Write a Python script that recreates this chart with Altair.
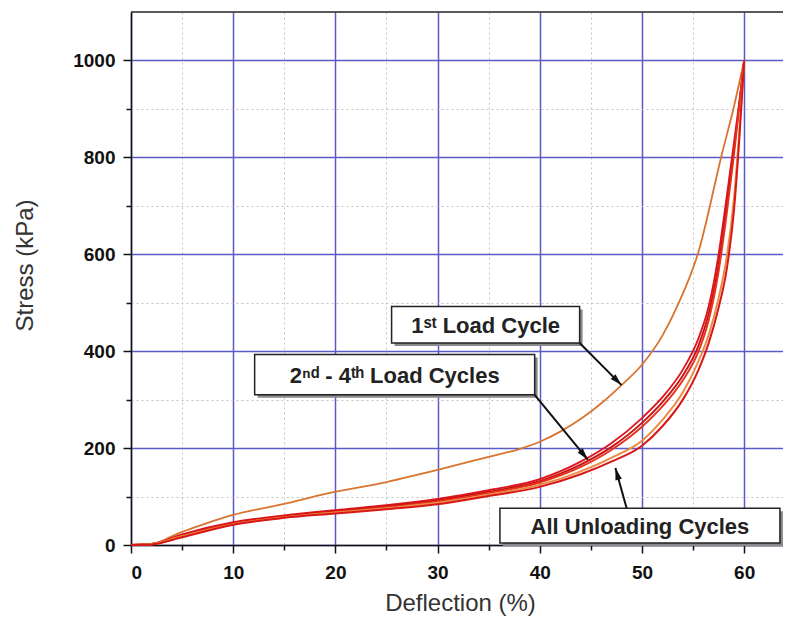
import math
import altair as alt
import pandas as pd

# ---------------- data ----------------
# 1st load cycle
load1_x = [0, 2, 3, 4, 5, 7, 10, 15, 18.5, 25, 30, 35, 38, 40, 42, 44, 46, 48, 50, 52, 53.5, 55.5, 57.8, 59, 60]
load1_y = [0, 1, 8, 18, 27, 42, 62, 85, 103, 130, 155, 182, 198, 213, 234, 260, 292, 330, 372, 432, 495, 603, 805, 905, 1000]

# 2nd - 4th load cycles and unloading cycles (common deflection grid)
red_x = [0, 2, 5, 10, 15, 20, 25, 30, 35, 40, 44, 47, 50, 52, 54, 55.5, 56.5, 57.5, 58.3, 59, 59.5, 60]
load2_y = [0, 2, 22, 47, 61, 72, 82, 95, 113, 136, 172, 210, 262, 305, 362, 425, 490, 600, 720, 830, 910, 1000]
load3_y = [0, 2, 20, 45, 59, 70, 80, 92, 110, 132, 166, 202, 252, 295, 350, 410, 475, 580, 700, 815, 905, 1000]
load4_y = [0, 2, 19, 44, 58, 68, 78, 90, 107, 129, 161, 196, 244, 286, 340, 398, 462, 565, 685, 805, 900, 1000]
unloadA_y = [0, 2, 18, 43, 57, 67, 76, 87, 104, 124, 152, 180, 215, 258, 315, 378, 432, 510, 595, 715, 845, 1000]
unloadB_y = [0, 1, 16, 42, 56, 65, 74, 84, 101, 120, 146, 172, 205, 245, 300, 360, 415, 490, 570, 690, 830, 1000]

series_names = ["1st load", "2nd load", "3rd load", "4th load", "unload a", "unload b"]
series_colors = ["#d9742f", "#e0141e", "#c81212", "#e4321e", "#ec8a40", "#d81818"]
series_widths = [1.8, 2.0, 2.0, 2.0, 1.5, 2.0]

# annotation boxes (data coordinates)
box_labels = ["1ˢᵗ Load Cycle", "2ⁿᵈ - 4ᵗʰ Load Cycles", "All Unloading Cycles"]
box_x1 = [25.5, 12.1, 36.1]
box_x2 = [43.9, 39.5, 63.5]
box_y1 = [417, 310, 4]
box_y2 = [492, 393, 76]

# annotation arrows
arrow_from_x = [43.9, 39.5, 48.5]
arrow_from_y = [417, 310, 76]
arrow_to_x = [48.0, 44.7, 47.4]
arrow_to_y = [330, 176, 159]

x_ticks = list(range(0, 61, 5))
y_ticks = list(range(0, 1001, 100))
x_domain = [0, 63.8]
y_domain = [0, 1100]

# ---------------- layout / style ----------------
W, H = 652, 533
MAJOR = "#5a5ac8"
MINOR = "#c4c4c4"
FONT = "Liberation Sans"

frames = []
frames.append(pd.DataFrame({"x": load1_x, "y": load1_y, "series": series_names[0]}))
for name, ys_ in zip(series_names[1:], [load2_y, load3_y, load4_y, unloadA_y, unloadB_y]):
    frames.append(pd.DataFrame({"x": red_x, "y": ys_, "series": name}))
curves = pd.concat(frames, ignore_index=True)

boxes = pd.DataFrame({"label": box_labels, "x1": box_x1, "x2": box_x2, "y1": box_y1, "y2": box_y2})
boxes["xc"] = (boxes["x1"] + boxes["x2"]) / 2
boxes["yc"] = (boxes["y1"] + boxes["y2"]) / 2

px_x = W / (x_domain[1] - x_domain[0])
px_y = H / (y_domain[1] - y_domain[0])
arrows = pd.DataFrame({"x1": arrow_from_x, "y1": arrow_from_y, "x2": arrow_to_x, "y2": arrow_to_y})
arrows["angle"] = [
    (math.degrees(math.atan2((tx - fx) * px_x, (ty - fy) * px_y)) + 360) % 360
    for fx, fy, tx, ty in zip(arrow_from_x, arrow_from_y, arrow_to_x, arrow_to_y)
]

frame_top = pd.DataFrame({"y": [y_domain[1]]})

xs = alt.Scale(domain=x_domain, nice=False, zero=False)
ys = alt.Scale(domain=y_domain, nice=False, zero=False)


def cond(test, a, b):
    return {"condition": {"test": test, "value": a}, "value": b}


x_major = "datum.value % 10 === 0"
y_major = "datum.value % 200 === 0"

x_axis = alt.Axis(
    values=x_ticks, format="d", title="Deflection (%)",
    labelExpr=f"{x_major} ? datum.label : ''",
    grid=True,
    gridColor=cond(x_major, MAJOR, MINOR),
    gridDash=cond(x_major, [1, 0], [2, 3]),
    gridWidth=cond(x_major, 1.5, 1),
    tickSize=cond(x_major, 8, 5),
    tickColor="#111", tickWidth=1.5,
    domainColor="#111", domainWidth=1.5,
    labelFont=FONT, labelFontSize=19, labelFontWeight="bold", labelColor="#111",
    labelPadding=10,
    titleFont=FONT, titleFontSize=24, titleFontWeight="normal", titleColor="#333",
    titleBaseline="alphabetic", titleX=329, titleY=65,
)
y_axis = alt.Axis(
    values=y_ticks, format="d", title="Stress (kPa)",
    labelExpr=f"{y_major} ? datum.label : ''",
    grid=True,
    gridColor=cond(y_major, MAJOR, MINOR),
    gridDash=cond(y_major, [1, 0], [2, 3]),
    gridWidth=cond(y_major, 1.5, 1),
    tickSize=cond(y_major, 8, 5),
    tickColor="#111", tickWidth=1.5,
    domainColor="#111", domainWidth=1.5,
    labelFont=FONT, labelFontSize=19, labelFontWeight="bold", labelColor="#111",
    labelPadding=8,
    titleFont=FONT, titleFontSize=24, titleFontWeight="normal", titleColor="#333",
    titleAngle=270, titleAlign="center", titleBaseline="middle",
    titleX=-106, titleY=253,
)


def X(field):
    return alt.X(field, type="quantitative", scale=xs, axis=x_axis)


def Y(field):
    return alt.Y(field, type="quantitative", scale=ys, axis=y_axis)


lines = alt.Chart(curves).mark_line(interpolate="monotone").encode(
    x=X("x"),
    y=Y("y"),
    color=alt.Color("series:N", scale=alt.Scale(domain=series_names, range=series_colors), legend=None),
    strokeWidth=alt.StrokeWidth("series:N", scale=alt.Scale(domain=series_names, range=series_widths), legend=None),
    detail="series:N",
)

top_line = alt.Chart(frame_top).mark_rule(color="#222", strokeWidth=1.5).encode(
    y=Y("y"),
)

shadow = alt.Chart(boxes).mark_rect(color="#8a8a8a", xOffset=3, x2Offset=3, yOffset=3, y2Offset=3).encode(
    x=X("x1"), x2="x2:Q",
    y=Y("y1"), y2="y2:Q",
)
box = alt.Chart(boxes).mark_rect(fill="white", stroke="#222", strokeWidth=1.5).encode(
    x=X("x1"), x2="x2:Q",
    y=Y("y1"), y2="y2:Q",
)
text = alt.Chart(boxes).mark_text(
    font=FONT, fontSize=22, fontWeight="bold", color="#222", align="center", baseline="middle", dy=1
).encode(
    x=X("xc"),
    y=Y("yc"),
    text="label:N",
)

arrow_lines = alt.Chart(arrows).mark_rule(color="#111", strokeWidth=2).encode(
    x=X("x1"), x2="x2:Q",
    y=Y("y1"), y2="y2:Q",
)
arrow_heads = alt.Chart(arrows).mark_point(
    shape="M0,0 L-0.55,2 L0.55,2 Z", filled=True, color="#111", size=144, opacity=1
).encode(
    x=X("x2"),
    y=Y("y2"),
    angle=alt.Angle("angle:Q", scale=None),
)

chart = alt.layer(lines, top_line, shadow, box, text, arrow_lines, arrow_heads).properties(
    width=W, height=H,
    background="white",
    autosize=alt.AutoSizeParams(type="none"),
    padding={"left": 123, "top": 4, "right": 0, "bottom": 71},
).configure_view(strokeOpacity=0)

chart.save("out.html", embed_options={"renderer": "svg", "actions": False})
